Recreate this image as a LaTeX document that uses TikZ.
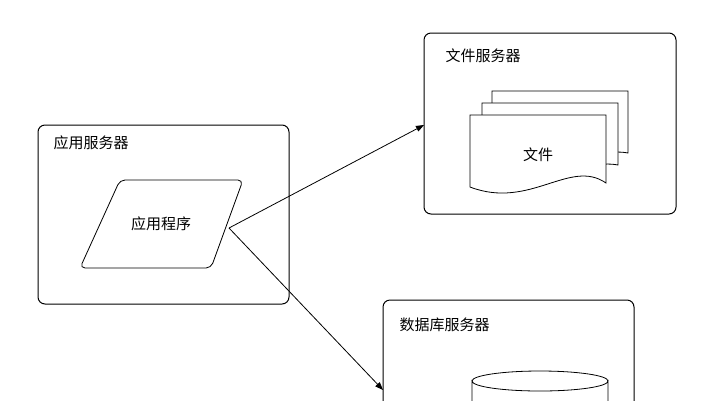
\documentclass[tikz,border=0pt]{standalone}
\usepackage{fontspec}
\setmainfont{Noto Sans CJK SC}
\usetikzlibrary{arrows.meta}
\begin{document}
\begin{tikzpicture}[x=1pt,y=-1pt,
  box/.style={draw,line width=1pt,rounded corners=7pt},
  txt/.style={font=\fontsize{15}{17}\selectfont},
  lbl/.style={txt,anchor=west},
  arr/.style={-{Triangle[length=8pt,width=6pt]},line width=0.8pt}]
\useasboundingbox (0,0) rectangle (719,400);
% app server
\draw[box] (38,125) rectangle (289,304);
\node[lbl] (t1) at (50,143) {应用服务器};
\draw[line width=0.8pt,rounded corners=5pt] (120,180) -- (243,180) -- (211,268) -- (80,268) -- cycle;
\node[txt] (app) at (161,224) {应用程序};
\coordinate (src) at (229,228);
% file server
\draw[box] (424,33) rectangle (676,214);
\node[lbl] (t2) at (442,56) {文件服务器};
\coordinate (fs) at (424,125);
\foreach \dx/\dy in {22/-24,12/-12}{
  \draw[line width=0.8pt,fill=white,shift={(\dx,\dy)}] (470,115) -- (606,115) -- (606,177) .. controls (570,170) and (530,205) .. (470,187) -- cycle;}
\draw[line width=0.8pt,fill=white] (470,115) -- (606,115) -- (606,183) .. controls (570,158) and (530,210) .. (470,187) -- cycle;
\node[txt] (file) at (538,155) {文件};
% db server
\draw[box] (383,300) rectangle (634,420);
\node[lbl] (t3) at (396,325) {数据库服务器};
\coordinate (db) at (383,390);
\draw[line width=0.8pt] (472,420) -- (472,381) arc[start angle=180,end angle=0,x radius=68,y radius=10] -- (608,420);
\draw[line width=0.8pt] (472,381) arc[start angle=180,end angle=360,x radius=68,y radius=10];
% arrows
\draw[arr] (src) -- (fs);
\draw[arr] (src) -- (db);
\end{tikzpicture}
\end{document}
